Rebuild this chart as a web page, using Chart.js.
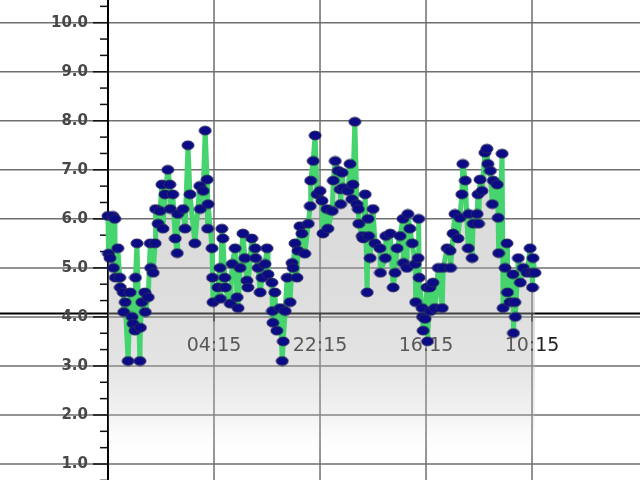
<!DOCTYPE html>
<html>
<head>
<meta charset="utf-8">
<script src="https://cdn.jsdelivr.net/npm/chart.js@4.4.1/dist/chart.umd.min.js"></script>
<style>
  html, body { margin: 0; padding: 0; background: #fff; }
  #wrap { width: 640px; height: 480px; }
</style>
</head>
<body>
<div id="wrap"><canvas id="chart" width="640" height="480"></canvas></div>
<script>
// minutes since the first reading (10:15 on day one)
const times = [
  0, 5, 20, 50, 55, 70, 75, 100, 120, 125, 155, 160, 175, 205, 225, 245, 255, 275, 280, 295,
  325, 330, 345, 375, 380, 410, 430, 435, 460, 480, 485, 510, 530, 550, 560, 580, 610, 630, 635, 660,
  685, 705, 710, 765, 785, 815, 835, 885, 935, 940, 970, 990, 1010, 1015, 1020, 1060, 1065, 1070,
  1120, 1140, 1145, 1160, 1170, 1190, 1195, 1245, 1265, 1295, 1315, 1325, 1345, 1375, 1395, 1415, 1425,
  1465, 1500, 1505, 1530, 1550, 1570, 1600, 1620, 1630, 1670, 1675, 1680, 1700, 1720, 1755, 1775, 1785,
  1805, 1825, 1855, 1875, 1885, 1905, 1925, 1935, 1955, 1975, 2005, 2040, 2060, 2065, 2090, 2110, 2130,
  2160, 2180, 2190, 2230, 2240, 2285, 2295, 2315, 2345, 2365, 2370, 2385, 2395, 2445, 2465, 2485, 2495,
  2515, 2535, 2550, 2555, 2590, 2600, 2620, 2640, 2650, 2655, 2670, 2700, 2720, 2770, 2775, 2825, 2830,
  2875, 2905, 2925, 2945, 2975, 3005, 3010, 3045, 3055, 3075, 3100, 3130, 3135, 3160, 3165, 3170, 3200,
  3205, 3210, 3230, 3250, 3255,
  3280, 3285, 3310, 3330, 3365, 3405, 3415, 3455, 3485, 3490, 3515, 3535, 3565, 3585, 3605, 3615, 3640,
  3670, 3675, 3710, 3720, 3760, 3770, 3775, 3790, 3810, 3840, 3860, 3870, 3895, 3915, 3925, 3965, 3975,
  3980, 4015, 4025, 4045, 4065, 4070, 4095, 4125, 4130, 4145, 4150, 4180, 4200, 4230, 4270, 4300, 4320,
  4325, 4330, 4350
];
const readings = [
  6.06, 5.29, 5.2, 6.06, 5.0, 6.0, 4.8, 5.4, 4.8, 4.6, 4.5, 4.1, 4.3, 3.1, 4.5, 4.0, 3.86, 3.72, 4.8, 5.5,
  3.1, 3.78, 4.3, 4.5, 4.1, 4.4, 5.5, 5.0, 4.9, 5.5, 6.2, 5.9, 6.16, 6.7, 5.8, 6.5, 7.0, 6.7, 6.2, 6.5,
  5.6, 5.3, 6.1, 6.2, 5.8, 7.5, 6.5, 5.5, 6.67, 6.2, 6.57, 7.8, 6.8, 5.8, 6.3, 5.4, 4.8, 4.3,
  4.6, 5.0, 4.37, 5.8, 5.6, 4.8, 4.6, 4.27, 5.08, 5.4, 4.4, 4.18, 5.0, 5.7, 5.2, 4.74, 4.6,
  5.6, 5.4, 5.2, 5.0, 4.5, 4.8, 5.08, 5.4, 4.87, 4.7, 4.12, 3.88, 4.5, 3.72, 4.18, 3.1, 3.5,
  4.12, 4.8, 4.3, 5.1, 5.0, 5.5, 4.8, 5.35, 5.85, 5.7, 5.29, 5.9, 6.26, 6.78, 7.18, 7.7, 6.5,
  6.57, 6.37, 5.7, 6.2, 5.8, 6.16, 6.78, 7.18, 6.98, 6.6, 6.3, 6.94, 6.63, 6.57, 7.12, 6.4, 6.7,
  7.98, 6.3, 6.2, 5.9, 5.65, 5.6, 6.5, 4.5, 6.0, 5.65, 5.2, 6.2, 5.5, 5.4, 4.9, 5.2, 5.65,
  5.7, 4.6, 4.9, 5.4, 5.65, 6.0, 5.1, 5.0, 6.1, 5.8, 5.5, 5.08, 4.3, 5.2, 6.0, 4.8, 4.18,
  4.0, 3.72, 3.96, 4.6, 3.5,
  4.6, 4.12, 4.7, 4.18, 5.0, 4.18, 5.0, 5.4, 5.35, 5.0, 5.7, 6.1, 5.6, 6.02, 6.5, 7.12, 6.78,
  5.4, 6.1, 5.2, 5.9, 6.1, 6.5, 5.9, 6.8, 6.57, 7.35, 7.43, 7.12, 6.98, 6.3, 6.78, 6.7, 6.02,
  5.3, 7.33, 4.18, 5.0, 5.5, 4.5, 4.3, 4.87, 3.67, 4.3, 4.0, 5.2, 4.7, 5.0, 4.9, 5.4, 4.9,
  4.6, 5.2, 4.9
];
const timeTicks = [1080, 2160, 3240, 4320];
const timeTickLabels = ['04:15', '22:15', '16:15', '10:15'];
const valueTicks = [1, 2, 3, 4, 5, 6, 7, 8, 9, 10];
const xAxisAt = 4.07;

// navy oval marker
const dot = document.createElement('canvas');
dot.width = 14;
dot.height = 11;
const dctx = dot.getContext('2d');
dctx.beginPath();
dctx.ellipse(7, 5.5, 6, 4.4, 0, 0, Math.PI * 2);
dctx.fillStyle = '#0b0b86';
dctx.fill();
dctx.strokeStyle = '#2b2b5e';
dctx.lineWidth = 1;
dctx.stroke();

const gridPlugin = {
  id: 'gridAndAxes',
  beforeDraw(chart) {
    const { ctx, scales: { x, y } } = chart;
    const line = (x1, y1, x2, y2) => {
      ctx.beginPath();
      ctx.moveTo(x1, y1);
      ctx.lineTo(x2, y2);
      ctx.stroke();
    };
    ctx.save();
    ctx.strokeStyle = '#6e6e6e';
    ctx.lineWidth = 1.5;
    valueTicks.forEach(v => {
      const py = y.getPixelForValue(v);
      line(0, py, chart.width, py);
    });
    timeTicks.forEach(t => {
      const px = x.getPixelForValue(t);
      line(px, 0, px, chart.height);
    });

    // major and minor ticks on the value axis
    ctx.strokeStyle = '#111';
    ctx.lineWidth = 1.5;
    for (let k = 2; k <= 31; k++) {
      const py = y.getPixelForValue(k / 3);
      const len = k % 3 === 0 ? 15 : 8;
      line(y.right - len, py, y.right, py);
    }
    const ay = y.getPixelForValue(xAxisAt);
    timeTicks.forEach(t => {
      const px = x.getPixelForValue(t);
      line(px, ay, px, ay + 8);
    });

    ctx.strokeStyle = '#000';
    ctx.lineWidth = 2;
    line(y.right, 0, y.right, chart.height);
    line(0, ay, chart.width, ay);
    ctx.restore();
  }
};

new Chart(document.getElementById('chart'), {
  type: 'line',
  data: {
    datasets: [{
      data: times.map((t, i) => ({ x: t, y: readings[i] })),
      borderColor: '#45d46e',
      borderWidth: 5,
      borderJoinStyle: 'bevel',
      tension: 0,
      fill: 'start',
      backgroundColor: (c) => {
        const area = c.chart.chartArea;
        if (!area) return 'rgba(190,190,190,0.4)';
        const g = c.chart.ctx.createLinearGradient(0, area.top, 0, area.bottom);
        g.addColorStop(0, 'rgba(160,160,170,0.42)');
        g.addColorStop(0.6, 'rgba(170,170,170,0.4)');
        g.addColorStop(0.76, 'rgba(180,180,180,0.36)');
        g.addColorStop(0.86, 'rgba(200,200,200,0.25)');
        g.addColorStop(0.96, 'rgba(255,255,255,0)');
        return g;
      },
      pointStyle: dot,
      pointRadius: 5,
      clip: false
    }]
  },
  options: {
    responsive: false,
    animation: false,
    events: [],
    layout: { padding: 0, autoPadding: false },
    plugins: {
      legend: { display: false },
      tooltip: { enabled: false }
    },
    scales: {
      x: {
        type: 'linear',
        position: { y: xAxisAt },
        min: 0,
        max: 5420,
        afterBuildTicks: s => { s.ticks = timeTicks.map(v => ({ value: v })); },
        afterFit: s => { s.paddingLeft = 0; s.paddingRight = 0; },
        grid: { display: false, drawTicks: false },
        border: { display: false },
        ticks: {
          autoSkip: false,
          maxRotation: 0,
          padding: 21,
          color: '#222',
          font: { family: 'DejaVu Sans', size: 19 },
          callback: (v, i) => timeTickLabels[i]
        }
      },
      y: {
        type: 'linear',
        min: 0.674,
        max: 10.463,
        afterBuildTicks: s => { s.ticks = valueTicks.map(v => ({ value: v })); },
        afterFit: s => { s.width = 108; s.paddingTop = 0; s.paddingBottom = 0; },
        grid: { display: false, drawTicks: false },
        border: { display: false },
        ticks: {
          padding: 20,
          color: '#484848',
          font: { family: 'DejaVu Sans', size: 15, weight: 'bold' },
          callback: v => v.toFixed(1)
        }
      }
    }
  },
  plugins: [gridPlugin]
});
</script>
</body>
</html>
